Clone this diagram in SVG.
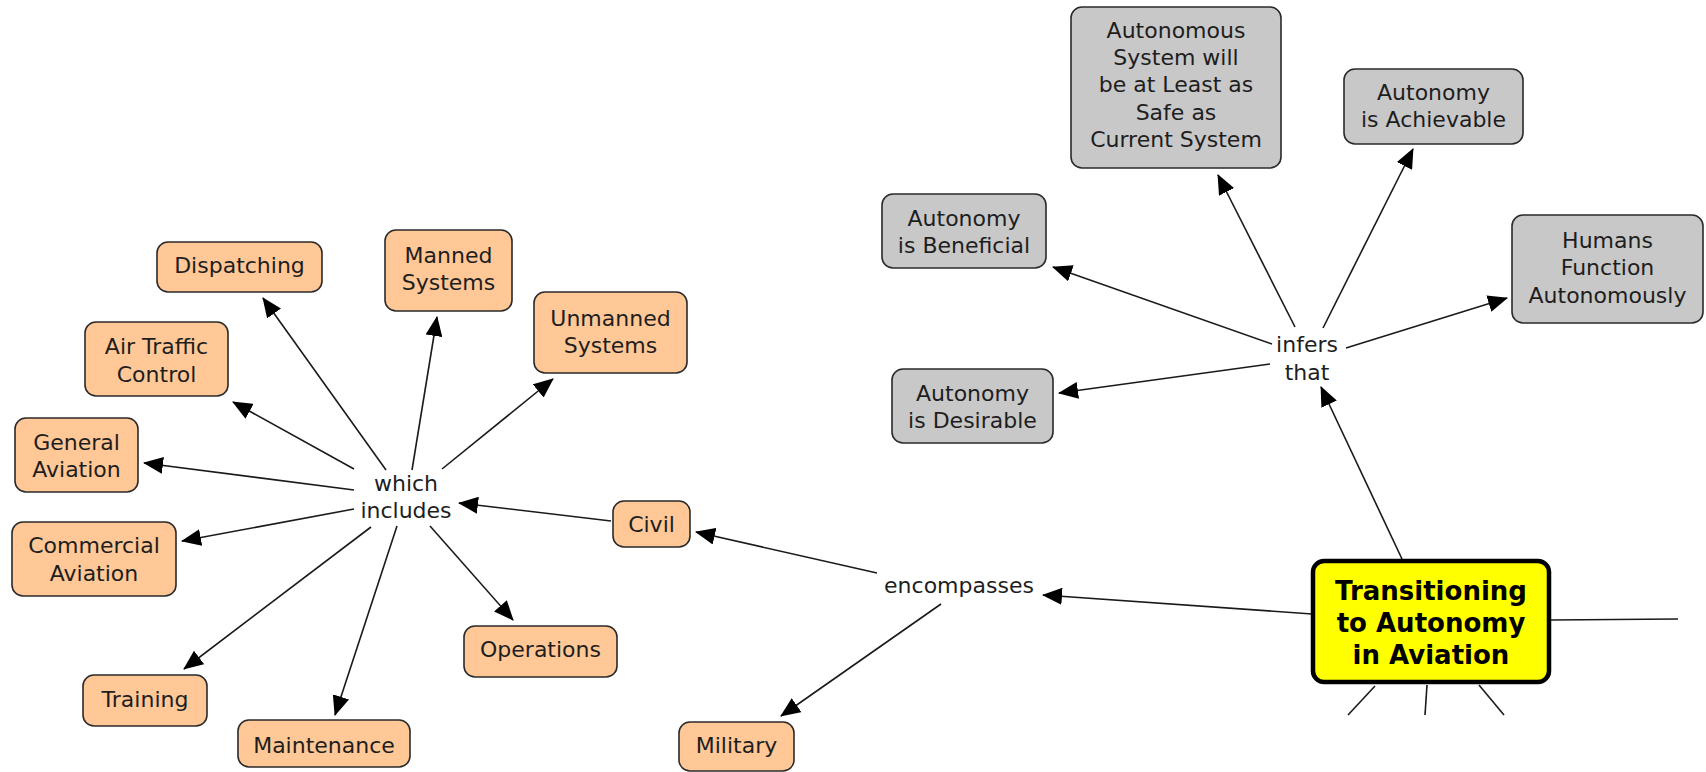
<svg xmlns="http://www.w3.org/2000/svg" width="1706" height="772" viewBox="0 0 1706 772">
  <style>
    text { font-family: "DejaVu Sans", Verdana, "Liberation Sans", sans-serif; font-size: 22px; fill: #1e1e1e; text-anchor: middle; }
    .orange { fill: #ffc896; stroke: #2a2a2a; stroke-width: 1.6; }
    .grey { fill: #c8c8c8; stroke: #2a2a2a; stroke-width: 1.6; }
    .main { fill: #ffff00; stroke: #000; stroke-width: 4.5; }
    .main-text { font-weight: bold; font-size: 26px; fill: #000; }
    .link { stroke: #1a1a1a; stroke-width: 1.6; fill: none; }
    .arrow { marker-end: url(#head); }
  </style>
  <defs>
    <marker id="head" markerUnits="userSpaceOnUse" viewBox="0 0 20 17" refX="19" refY="8.5" markerWidth="20" markerHeight="17" orient="auto">
      <path d="M0,0 L20,8.5 L0,17 z" fill="#000"/>
    </marker>
  </defs>
  <rect width="1706" height="772" fill="#fff"/>

  <!-- connectors -->
  <g id="connectors">
    <line class="link arrow" x1="386" y1="470" x2="263" y2="298"/>
    <line class="link arrow" x1="412" y1="470" x2="437" y2="317"/>
    <line class="link arrow" x1="354" y1="469" x2="233" y2="402"/>
    <line class="link arrow" x1="354" y1="490" x2="144" y2="463"/>
    <line class="link arrow" x1="442" y1="469" x2="553" y2="379"/>
    <line class="link arrow" x1="611" y1="521" x2="459" y2="503"/>
    <line class="link arrow" x1="354" y1="509" x2="182" y2="541"/>
    <line class="link arrow" x1="371" y1="527" x2="184" y2="669"/>
    <line class="link arrow" x1="397" y1="526" x2="335" y2="715"/>
    <line class="link arrow" x1="430" y1="526" x2="513" y2="620"/>
    <line class="link arrow" x1="877" y1="573" x2="696" y2="532"/>
    <line class="link arrow" x1="941" y1="604" x2="781" y2="716"/>
    <line class="link arrow" x1="1312" y1="614" x2="1043" y2="595"/>
    <line class="link arrow" x1="1402" y1="559" x2="1321" y2="387"/>
    <line class="link arrow" x1="1272" y1="344" x2="1053" y2="267"/>
    <line class="link arrow" x1="1295" y1="327" x2="1218" y2="175"/>
    <line class="link arrow" x1="1323" y1="328" x2="1413" y2="149"/>
    <line class="link arrow" x1="1346" y1="348" x2="1507" y2="298"/>
    <line class="link arrow" x1="1270" y1="364" x2="1059" y2="393"/>
    <line class="link" x1="1551" y1="620" x2="1678" y2="619"/>
    <line class="link" x1="1375" y1="686" x2="1348" y2="715"/>
    <line class="link" x1="1427" y1="685" x2="1425" y2="715"/>
    <line class="link" x1="1479" y1="685" x2="1504" y2="715"/>
  </g>

  <!-- linking phrases -->
  <g id="which-includes">
    <text x="406" y="491">which</text>
    <text x="406" y="518">includes</text>
  </g>
  <g id="encompasses">
    <text x="959" y="593">encompasses</text>
  </g>
  <g id="infers-that">
    <text x="1307" y="352">infers</text>
    <text x="1307" y="380">that</text>
  </g>

  <!-- concepts -->
  <g id="dispatching">
    <rect class="orange" x="157" y="242" width="165" height="50" rx="11"/>
    <text x="239.5" y="273">Dispatching</text>
  </g>
  <g id="manned-systems">
    <rect class="orange" x="385" y="230" width="127" height="81" rx="11"/>
    <text x="448.5" y="263">Manned</text>
    <text x="448.5" y="290">Systems</text>
  </g>
  <g id="unmanned-systems">
    <rect class="orange" x="534" y="292" width="153" height="81" rx="11"/>
    <text x="610.5" y="326">Unmanned</text>
    <text x="610.5" y="353">Systems</text>
  </g>
  <g id="air-traffic-control">
    <rect class="orange" x="85" y="322" width="143" height="74" rx="11"/>
    <text x="156.5" y="354">Air Traffic</text>
    <text x="156.5" y="382">Control</text>
  </g>
  <g id="general-aviation">
    <rect class="orange" x="15" y="418" width="123" height="74" rx="11"/>
    <text x="76.5" y="450">General</text>
    <text x="76.5" y="477">Aviation</text>
  </g>
  <g id="commercial-aviation">
    <rect class="orange" x="12" y="522" width="164" height="74" rx="11"/>
    <text x="94" y="553">Commercial</text>
    <text x="94" y="581">Aviation</text>
  </g>
  <g id="training">
    <rect class="orange" x="83" y="675" width="124" height="51" rx="11"/>
    <text x="145" y="707">Training</text>
  </g>
  <g id="maintenance">
    <rect class="orange" x="238" y="720" width="172" height="47" rx="11"/>
    <text x="324" y="753">Maintenance</text>
  </g>
  <g id="operations">
    <rect class="orange" x="464" y="626" width="153" height="51" rx="11"/>
    <text x="540.5" y="657">Operations</text>
  </g>
  <g id="civil">
    <rect class="orange" x="613" y="501" width="77" height="46" rx="11"/>
    <text x="651.5" y="532">Civil</text>
  </g>
  <g id="military">
    <rect class="orange" x="679" y="722" width="115" height="49" rx="11"/>
    <text x="736.5" y="753">Military</text>
  </g>

  <g id="autonomous-system-safe">
    <rect class="grey" x="1071" y="7" width="210" height="161" rx="11"/>
    <text x="1176" y="38">Autonomous</text>
    <text x="1176" y="65">System will</text>
    <text x="1176" y="92">be at Least as</text>
    <text x="1176" y="120">Safe as</text>
    <text x="1176" y="147">Current System</text>
  </g>
  <g id="autonomy-achievable">
    <rect class="grey" x="1344" y="69" width="179" height="75" rx="11"/>
    <text x="1433.5" y="100">Autonomy</text>
    <text x="1433.5" y="127">is Achievable</text>
  </g>
  <g id="autonomy-beneficial">
    <rect class="grey" x="882" y="194" width="164" height="74" rx="11"/>
    <text x="964" y="226">Autonomy</text>
    <text x="964" y="253">is Beneficial</text>
  </g>
  <g id="humans-function-autonomously">
    <rect class="grey" x="1512" y="215" width="191" height="108" rx="11"/>
    <text x="1607.5" y="248">Humans</text>
    <text x="1607.5" y="275">Function</text>
    <text x="1607.5" y="303">Autonomously</text>
  </g>
  <g id="autonomy-desirable">
    <rect class="grey" x="892" y="369" width="161" height="74" rx="11"/>
    <text x="972.5" y="401">Autonomy</text>
    <text x="972.5" y="428">is Desirable</text>
  </g>

  <g id="transitioning-to-autonomy">
    <rect class="main" x="1313" y="561" width="236" height="121" rx="11"/>
    <text class="main-text" x="1431" y="600">Transitioning</text>
    <text class="main-text" x="1431" y="632">to Autonomy</text>
    <text class="main-text" x="1431" y="664">in Aviation</text>
  </g>
</svg>
